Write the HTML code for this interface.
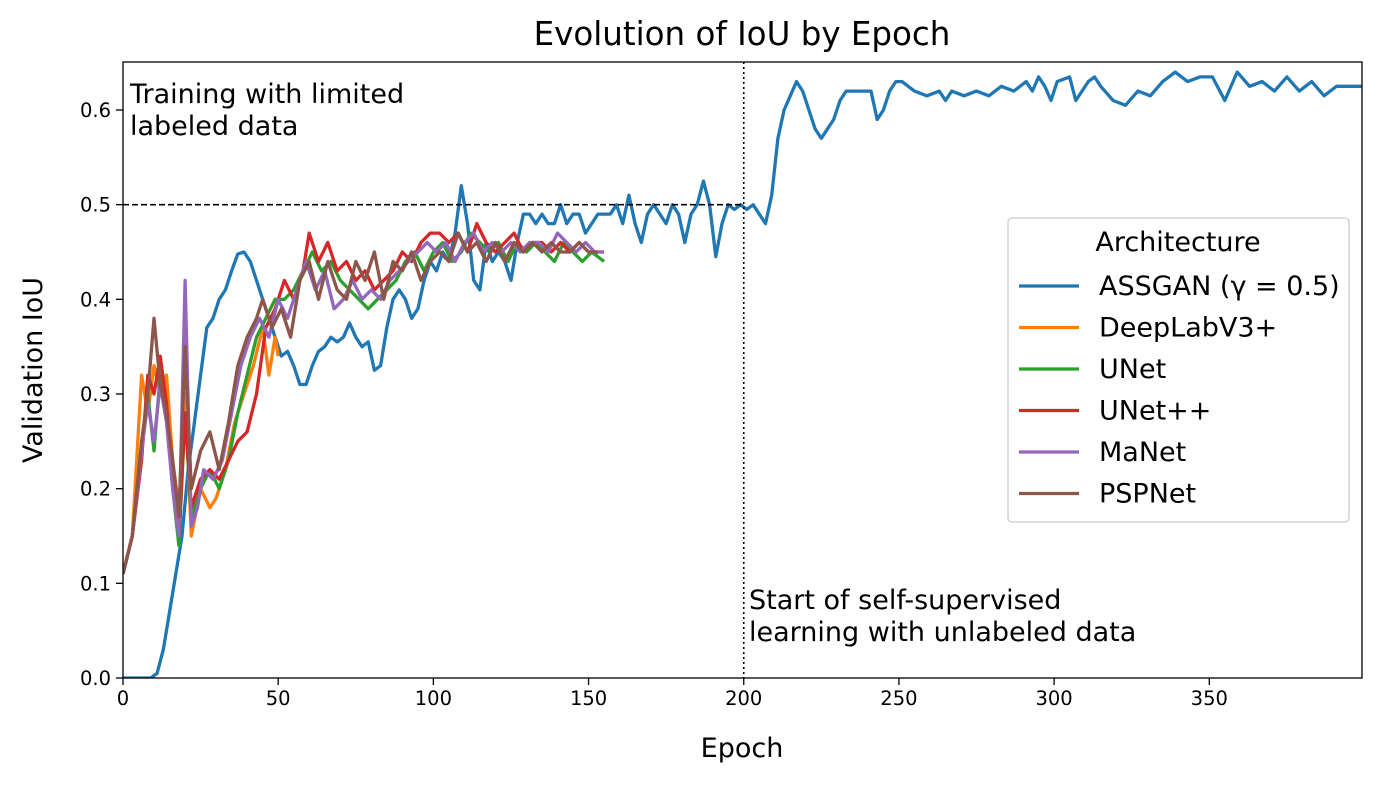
<!DOCTYPE html>
<html><head><meta charset="utf-8">
<style>
body{margin:0;background:#fff;}
svg{display:block;font-family:"DejaVu Sans","Liberation Sans",sans-serif;}
</style></head>
<body>
<svg id="chart" width="1382" height="785" viewBox="0 0 1382 785"></svg>
<script>
const assganEpochs=[0,9,11,13,15,17,19,21,23,25,27,29,31,33,35,37,39,41,43,45,47,49,51,53,55,57,59,61,63,65,67,69,71,73,75,77,79,81,83,85,87,89,91,93,95,97,99,101,103,105,107,109,111,113,115,117,119,121,123,125,127,129,131,133,135,137,139,141,143,145,147,149,151,153,155,157,159,161,163,165,167,169,171,173,175,177,179,181,183,185,187,189,191,193,195,197,199,201,203,205,207,209,211,213,215,217,219,221,223,225,227,229,231,233,235,237,239,241,243,245,247,249,251,255,259,263,265,267,271,275,279,283,287,291,293,295,297,299,301,305,307,311,313,315,319,323,327,331,335,339,343,347,351,355,359,363,367,371,375,379,383,387,391,395,399];
const assganValues=[0,0,0.005,0.03,0.07,0.11,0.15,0.22,0.27,0.32,0.37,0.38,0.40,0.41,0.43,0.448,0.45,0.44,0.42,0.40,0.38,0.36,0.34,0.345,0.33,0.31,0.31,0.33,0.345,0.35,0.36,0.355,0.36,0.375,0.36,0.35,0.355,0.325,0.33,0.37,0.40,0.41,0.40,0.38,0.39,0.42,0.44,0.43,0.45,0.44,0.47,0.52,0.48,0.42,0.41,0.46,0.44,0.45,0.44,0.42,0.46,0.49,0.49,0.48,0.49,0.48,0.48,0.50,0.48,0.49,0.49,0.47,0.48,0.49,0.49,0.49,0.50,0.48,0.51,0.48,0.46,0.49,0.50,0.49,0.48,0.50,0.49,0.46,0.49,0.50,0.525,0.50,0.445,0.48,0.50,0.495,0.50,0.495,0.50,0.49,0.48,0.51,0.57,0.60,0.615,0.63,0.62,0.60,0.58,0.57,0.58,0.59,0.61,0.62,0.62,0.62,0.62,0.62,0.59,0.60,0.62,0.63,0.63,0.62,0.615,0.62,0.61,0.62,0.615,0.62,0.615,0.625,0.62,0.63,0.62,0.635,0.625,0.61,0.63,0.635,0.61,0.63,0.635,0.625,0.61,0.605,0.62,0.615,0.63,0.64,0.63,0.635,0.635,0.61,0.64,0.625,0.63,0.62,0.635,0.62,0.63,0.615,0.625,0.625,0.625];
const deeplabEpochs=[0,3,6,8,10,12,14,16,18,20,22,25,28,30,33,36,39,42,45,47,49,50];
const deeplabValues=[0.11,0.15,0.32,0.28,0.33,0.30,0.32,0.23,0.18,0.30,0.15,0.20,0.18,0.19,0.22,0.27,0.30,0.33,0.37,0.32,0.36,0.34];
const unetEpochs=[0,3,6,8,10,12,14,16,18,20,22,25,28,31,34,37,40,43,46,49,52,55,58,61,64,67,70,73,76,79,82,85,88,91,94,97,100,103,106,109,112,115,118,121,124,127,130,133,136,139,142,145,148,151,155];
const unetValues=[0.11,0.15,0.24,0.30,0.24,0.32,0.28,0.20,0.14,0.28,0.17,0.20,0.22,0.20,0.23,0.28,0.32,0.36,0.38,0.40,0.40,0.41,0.43,0.45,0.43,0.44,0.42,0.41,0.40,0.39,0.40,0.41,0.42,0.44,0.45,0.43,0.45,0.46,0.44,0.45,0.47,0.46,0.45,0.46,0.44,0.46,0.45,0.46,0.45,0.44,0.46,0.45,0.44,0.45,0.44];
const unetppEpochs=[0,3,6,8,10,12,14,16,18,20,22,25,28,31,34,37,40,43,46,49,52,55,58,60,63,66,69,72,75,78,81,84,87,90,93,96,99,102,105,108,111,114,117,120,123,126,129,132,135,138,141,144,147,150,153,155];
const unetppValues=[0.11,0.15,0.23,0.32,0.30,0.34,0.29,0.21,0.15,0.28,0.18,0.21,0.22,0.21,0.23,0.25,0.26,0.30,0.37,0.39,0.42,0.40,0.43,0.47,0.44,0.46,0.43,0.44,0.42,0.43,0.41,0.42,0.43,0.45,0.44,0.46,0.47,0.47,0.46,0.47,0.45,0.48,0.46,0.45,0.46,0.47,0.45,0.46,0.46,0.45,0.46,0.45,0.46,0.45,0.45,0.45];
const manetEpochs=[0,3,6,8,10,12,14,16,18,20,22,24,26,29,32,35,38,41,44,47,50,53,56,59,62,65,68,71,74,77,80,83,86,89,92,95,98,101,104,107,110,113,116,119,122,125,128,131,134,137,140,143,146,149,152,155];
const manetValues=[0.11,0.15,0.24,0.29,0.25,0.31,0.27,0.20,0.15,0.42,0.16,0.18,0.22,0.21,0.23,0.28,0.33,0.36,0.38,0.36,0.40,0.38,0.41,0.44,0.41,0.43,0.39,0.40,0.42,0.40,0.41,0.40,0.42,0.43,0.44,0.45,0.46,0.45,0.46,0.44,0.46,0.47,0.45,0.46,0.45,0.46,0.45,0.46,0.46,0.45,0.47,0.46,0.45,0.46,0.45,0.45];
const pspEpochs=[0,3,6,8,10,12,14,16,18,20,22,25,28,31,34,37,40,43,45,48,51,54,57,60,63,66,69,72,75,78,81,84,87,90,93,96,99,102,105,108,111,114,117,120,123,126,129,132,135,138,141,144,147,150,153];
const pspValues=[0.11,0.15,0.25,0.30,0.38,0.31,0.28,0.23,0.17,0.35,0.20,0.24,0.26,0.22,0.27,0.33,0.36,0.38,0.40,0.37,0.39,0.36,0.42,0.44,0.40,0.44,0.41,0.40,0.44,0.42,0.45,0.40,0.44,0.43,0.45,0.42,0.44,0.45,0.44,0.47,0.45,0.46,0.44,0.46,0.44,0.46,0.45,0.46,0.45,0.46,0.45,0.45,0.46,0.45,0.45];
const xTicks=[0,50,100,150,200,250,300,350];
const yTicks=[0.0,0.1,0.2,0.3,0.4,0.5,0.6];
const seriesNames=["ASSGAN (γ = 0.5)","DeepLabV3+","UNet","UNet++","MaNet","PSPNet"];

const L=123,R=1362,T=62,B=678,XMAX=399.2,YMAX=0.6507;
const X=v=>L+(v/XMAX)*(R-L);
const Y=v=>B-(v/YMAX)*(B-T);
const svg=document.getElementById('chart');
const NS='http://www.w3.org/2000/svg';
function mk(tag,attrs,parent){const e=document.createElementNS(NS,tag);for(const k in attrs)e.setAttribute(k,attrs[k]);(parent||svg).appendChild(e);return e;}
function txt(s,attrs,parent){const e=mk('text',attrs,parent);e.textContent=s;return e;}

const defs=mk('defs',{});
const cp=mk('clipPath',{id:'clip'},defs);
mk('rect',{x:L,y:T,width:R-L,height:B-T},cp);

const colors=['#1f77b4','#ff7f0e','#2ca02c','#d62728','#9467bd','#8c564b'];
const ser=[[assganEpochs,assganValues],[deeplabEpochs,deeplabValues],[unetEpochs,unetValues],[unetppEpochs,unetppValues],[manetEpochs,manetValues],[pspEpochs,pspValues]];
const keys=['assgan','deeplabv3plus','unet','unetpp','manet','pspnet'];
const g=mk('g',{'clip-path':'url(#clip)'});


ser.forEach((s,i)=>{
  const d=s[0].map((e,j)=>(j?'L':'M')+X(e).toFixed(1)+','+Y(s[1][j]).toFixed(1)).join(' ');
  const p=mk('path',{d:d,fill:'none',stroke:colors[i],'stroke-width':3.3,'stroke-linejoin':'round'},g);
  
  
});
const hl=mk('line',{x1:L,x2:X(200),y1:Y(0.5),y2:Y(0.5),stroke:'#000','stroke-width':1.6,'stroke-dasharray':'6,3'});


const vl=mk('line',{x1:X(200),x2:X(200),y1:T,y2:B,stroke:'#000','stroke-width':1.6,'stroke-dasharray':'2,3'});



const frame=mk('rect',{x:L,y:T,width:R-L,height:B-T,fill:'none',stroke:'#000','stroke-width':1.3});



xTicks.forEach(t=>{
  mk('line',{x1:X(t),x2:X(t),y1:B,y2:B+7,stroke:'#000','stroke-width':1.3});
  const e=txt(String(t),{x:X(t),y:B+27,'text-anchor':'middle','font-size':19.5});
  
  
});
yTicks.forEach(t=>{
  mk('line',{x1:L-7,x2:L,y1:Y(t),y2:Y(t),stroke:'#000','stroke-width':1.3});
  const e=txt(t.toFixed(1),{x:L-12,y:Y(t)+7,'text-anchor':'end','font-size':19.5});
  
  
});
</script>
<script>
(function(){
const svg=document.getElementById('chart');
const NS='http://www.w3.org/2000/svg';
function t(s,a,n){const e=document.createElementNS(NS,'text');for(const k in a)e.setAttribute(k,a[k]);e.textContent=s;svg.appendChild(e);return e;}
t('Evolution of IoU by Epoch',{x:742,y:45,'text-anchor':'middle','font-size':32.5},'chart-title');
t('Epoch',{x:742,y:757,'text-anchor':'middle','font-size':27},'x-axis-title');
t('Validation IoU',{x:42,y:370,'text-anchor':'middle','font-size':27,transform:'rotate(-90 42 370)'},'y-axis-title');
t('Training with limited',{x:130,y:103,'font-size':27},'annotation-limited-line1');
t('labeled data',{x:130,y:135,'font-size':27},'annotation-limited-line2');
t('Start of self-supervised',{x:749,y:609,'font-size':27},'annotation-ssl-line1');
t('learning with unlabeled data',{x:749,y:641,'font-size':27},'annotation-ssl-line2');
const g=document.createElementNS(NS,'g');svg.appendChild(g);
const r=document.createElementNS(NS,'rect');
[['x',1008],['y',218],['width',341],['height',304],['rx',4],['fill','#fff'],['stroke','#ccc'],['stroke-width',1.3]].forEach(a=>r.setAttribute(a[0],a[1]));g.appendChild(r);
const lt=document.createElementNS(NS,'text');lt.setAttribute('x',1178);lt.setAttribute('y',251);lt.setAttribute('text-anchor','middle');lt.setAttribute('font-size',27);lt.textContent='Architecture';


g.appendChild(lt);
const colors=['#1f77b4','#ff7f0e','#2ca02c','#d62728','#9467bd','#8c564b'];
seriesNames.forEach((n,i)=>{
  const y=286+i*41.5;
  const l=document.createElementNS(NS,'line');
  [['x1',1019],['x2',1079],['y1',y],['y2',y],['stroke',colors[i]],['stroke-width',3.3]].forEach(a=>l.setAttribute(a[0],a[1]));
  
  
  g.appendChild(l);
  const tx=document.createElementNS(NS,'text');tx.setAttribute('x',1099);tx.setAttribute('y',y+9);tx.setAttribute('font-size',27);tx.textContent=n;
  
  
  g.appendChild(tx);
});
})();
</script>
</body></html>
